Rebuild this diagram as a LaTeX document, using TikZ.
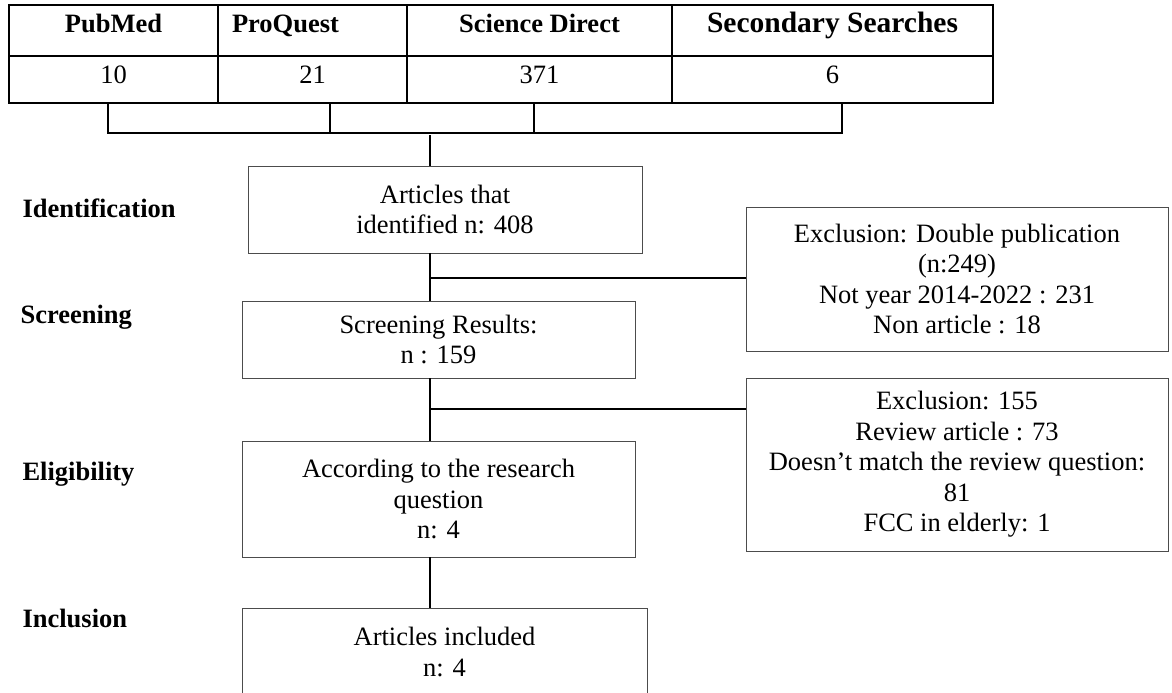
\documentclass[tikz,border=0pt]{standalone}
\usepackage{fontspec}
\setmainfont{Liberation Serif}

\begin{document}
\begin{tikzpicture}[x=1pt, y=-1pt,
    cell/.style={draw, line width=1.6pt, inner sep=0pt, outer sep=0pt, anchor=north west},
    headcell/.style={cell, font=\fontsize{26.5}{30}\selectfont\bfseries, text height=28pt, text depth=23pt},
    numcell/.style={cell, font=\fontsize{26.5}{30}\selectfont, text height=27pt, text depth=20pt},
    box/.style={draw=black!70, line width=1pt, inner sep=0pt, outer sep=0pt, anchor=north west, align=center, font=\fontsize{26.5}{30.5}\selectfont},
    stage/.style={anchor=base west, font=\fontsize{26.5}{30}\selectfont\bfseries},
    link/.style={line width=1.4pt}]
    \useasboundingbox (0,0) rectangle (1172,693);
    \clip (0,0) rectangle (1172,693);

    \node [headcell, minimum width=209pt] (hPub) at (9,5) {PubMed};
    \node [headcell, text width=161pt, inner xsep=14pt, align=left] (hPro) at (hPub.north east) {ProQuest};
    \node [headcell, minimum width=265pt] (hSci) at (hPro.north east) {Science Direct};
    \node [headcell, minimum width=321pt, font=\fontsize{29.5}{32}\selectfont\bfseries] (hSec) at (hSci.north east) {Secondary Searches};
    \node [numcell, minimum width=209pt] (nPub) at (hPub.south west) {10};
    \node [numcell, minimum width=189pt] (nPro) at (hPro.south west) {21};
    \node [numcell, minimum width=265pt] (nSci) at (hSci.south west) {371};
    \node [numcell, minimum width=321pt] (nSec) at (hSec.south west) {6};

    \node [box, minimum width=394pt, minimum height=87pt] (ident) at (248,166) {Articles that\\identified n: 408};
    \node [box, minimum width=393pt, minimum height=77pt] (screen) at (242,301) {Screening Results:\\n : 159};
    \node [box, minimum width=393pt, minimum height=116pt] (elig) at (242,441) {According to the research\\question\\n: 4};
    \node [box, minimum width=405pt, minimum height=88pt] (incl) at (242,608) {Articles included\\n: 4};
    \node [box, minimum width=422pt, minimum height=144pt] (excl1) at (746,207) {Exclusion: Double publication\\(n:249)\\Not year 2014-2022 : 231\\Non article : 18};
    \node [box, minimum width=422pt, minimum height=173pt] (excl2) at (746,378) {Exclusion: 155\\Review article : 73\\Doesn’t match the review question:\\81\\FCC in elderly: 1};

    \node [stage] (idLabel) at (19,217) {Identification};
    \node [stage] (scLabel) at (17,323) {Screening};
    \node [stage] (elLabel) at (19,480) {Eligibility};
    \node [stage] (inLabel) at (19,627) {Inclusion};

    \coordinate (bar) at (430,133);
    \draw [link] ([xshift=-5.5pt]nPub.south) |- (bar) -| ([xshift=9.5pt]nSec.south);
    \draw [link] ([xshift=17.5pt]nPro.south) -- ([xshift=17.5pt]nPro.south |- bar);
    \draw [link] ([xshift=-5.5pt]nSci.south) -- ([xshift=-5.5pt]nSci.south |- bar);
    \draw [link] ([yshift=-2pt]bar) -- (bar |- ident.north);

    \coordinate (fork1) at (430,278);
    \coordinate (fork2) at (430,409);
    \draw [link] (ident.south -| bar) -- (screen.north -| bar);
    \draw [link] (fork1) -- (fork1 -| excl1.west);
    \draw [link] (screen.south -| bar) -- (elig.north -| bar);
    \draw [link] (fork2) -- (fork2 -| excl2.west);
    \draw [link] (elig.south -| bar) -- (incl.north -| bar);
\end{tikzpicture}
\end{document}
